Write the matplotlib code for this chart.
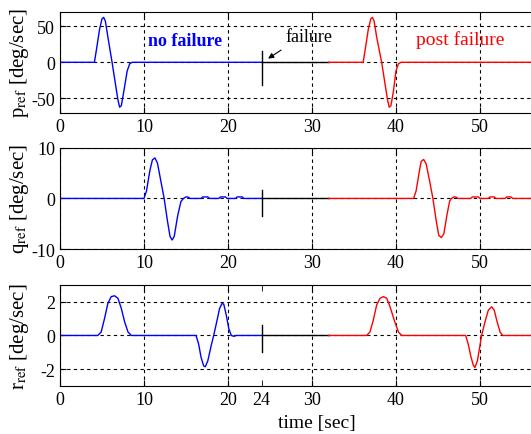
import matplotlib
matplotlib.use('Agg')
import matplotlib.pyplot as plt

plt.rcParams['font.family'] = ['Liberation Serif', 'DejaVu Serif']
plt.rcParams['mathtext.fontset'] = 'stix'
plt.rcParams['axes.unicode_minus'] = False

# p_ref [deg/sec]
p_pre_t = [0, 4.1, 4.4, 4.7, 5.0, 5.2, 5.4, 5.7, 6.2, 6.6, 6.9, 7.1, 7.3, 7.6, 8.0, 8.3, 8.6, 24]
p_pre = [0, 0, 22, 45, 60, 62, 57, 35, 0, -30, -52, -62, -60, -40, -12, -2, 0, 0]
p_post_t = [32, 36.1, 36.4, 36.7, 37.0, 37.2, 37.4, 37.7, 38.3, 38.7, 39.0, 39.2, 39.4, 39.7, 40.0, 40.3, 40.6, 60]
p_post = [0, 0, 22, 45, 60, 62, 57, 35, 0, -30, -52, -62, -60, -40, -12, -2, 0, 0]

# q_ref [deg/sec]
q_pre_t = [0, 10.0, 10.3, 10.7, 11.0, 11.3, 11.6, 12.0, 12.4, 12.8, 13.1, 13.35, 13.6, 14.0, 14.4, 14.7,
           15.0, 15.2, 15.5, 16.8, 17.0, 17.6, 17.8, 18.9, 19.1, 19.7, 19.9, 20.9, 21.1, 21.7, 21.9, 24]
q_pre = [0, 0, 1.5, 5.5, 7.6, 8.0, 7.0, 3.5, 0, -4.5, -7.5, -8.2, -7.5, -3.5, -0.6, 0,
         0.3, 0.3, 0, 0, 0.3, 0.3, 0, 0, 0.3, 0.3, 0, 0, 0.3, 0.3, 0, 0]
q_post_t = [32, 42.1, 42.4, 42.8, 43.0, 43.3, 43.6, 44.0, 44.4, 44.8, 45.1, 45.4, 45.7, 46.1, 46.4, 46.6,
            46.9, 47.1, 47.4, 48.9, 49.1, 49.8, 50.0, 51.0, 51.2, 51.7, 51.9, 53.0, 53.2, 53.7, 53.9, 60]
q_post = [0, 0, 1.5, 5.5, 7.3, 7.7, 6.8, 3.5, 0, -4.5, -7.3, -7.7, -7.0, -3.0, -0.5, 0,
          0.3, 0.3, 0, 0, 0.3, 0.3, 0, 0, 0.3, 0.3, 0, 0, 0.3, 0.3, 0, 0]

# r_ref [deg/sec]
r_pre_t = [0, 4.5, 4.9, 5.3, 5.7, 6.1, 6.5, 6.9, 7.3, 7.7, 8.1, 8.5,
           16.2, 16.5, 16.8, 17.1, 17.3, 17.6, 18.0, 18.3, 18.7, 19.0, 19.3, 19.5, 19.8, 20.1, 20.4, 20.7, 21.0, 24]
r_pre = [0, 0, 0.2, 1.0, 1.9, 2.3, 2.35, 2.2, 1.6, 0.8, 0.2, 0,
         0, -0.5, -1.3, -1.8, -1.85, -1.5, -0.6, 0, 0.9, 1.6, 1.9, 1.85, 1.2, 0.4, 0, -0.05, 0, 0]
r_post_t = [32, 36.5, 36.9, 37.3, 37.7, 38.1, 38.5, 38.9, 39.3, 39.8, 40.3, 40.7,
            48.3, 48.6, 48.9, 49.2, 49.4, 49.7, 50.0, 50.2, 50.6, 51.0, 51.4, 51.7, 52.0, 52.4, 52.7, 60]
r_post = [0, 0, 0.2, 0.9, 1.8, 2.2, 2.3, 2.2, 1.7, 0.9, 0.2, 0,
          0, -0.5, -1.2, -1.75, -1.9, -1.5, -0.6, 0, 0.8, 1.5, 1.7, 1.5, 0.9, 0.2, 0, 0]

gap_t = [24, 32]
gap = [0, 0]
t_fail = 24

panels = [
    (p_pre_t, p_pre, p_post_t, p_post, (-70, 70), [-50, 0, 50], (-32, 15), r'p$_{\rm ref}$ [deg/sec]'),
    (q_pre_t, q_pre, q_post_t, q_post, (-10, 10), [-10, 0, 10], (-3.5, 1.6), r'q$_{\rm ref}$ [deg/sec]'),
    (r_pre_t, r_pre, r_post_t, r_post, (-3, 3), [-2, 0, 2], (-0.95, 0.6), r'r$_{\rm ref}$ [deg/sec]'),
]
boxes = [0.738, 0.425, 0.110]

fig = plt.figure(figsize=(5.31, 4.35), dpi=100)
axes = []
for (t1, y1, t2, y2, ylim, yt, mark, lab), b in zip(panels, boxes):
    ax = fig.add_axes([0.113, b, 0.949, 0.233])
    ax.plot(t1, y1, color='blue', lw=1)
    ax.plot(gap_t, gap, color='black', lw=1)
    ax.plot(t2, y2, color='red', lw=1)
    ax.plot([t_fail, t_fail], mark, color='black', lw=1)
    ax.set_xlim(0, 60)
    ax.set_ylim(*ylim)
    ax.set_xticks([0, 10, 20, 30, 40, 50])
    ax.set_yticks(yt)
    ax.grid(True, color='black', linestyle=(0, (3, 3)), lw=0.8)
    ax.tick_params(direction='in', top=True, right=True, labelsize=13, length=4)
    ax.set_ylabel(lab, fontsize=15)
    ax.yaxis.set_label_coords(-0.058, 0.5)
    axes.append(ax)

ax1, ax2, ax3 = axes
ax1.text(10.5, 30, 'no failure', color='blue', fontsize=13, fontweight='bold', va='center')
ax1.text(42.4, 32, 'post failure', color='red', fontsize=14, va='center')
ax1.text(26.8, 35, 'failure', color='black', fontsize=13, va='center')
ax1.annotate('', xy=(24.5, 3), xytext=(26.6, 19),
             arrowprops=dict(arrowstyle='-|>', color='black', lw=0.8, mutation_scale=8))

ax3.set_xticks([24], minor=True)
ax3.set_xticklabels(['24'], minor=True)
ax3.tick_params(which='minor', direction='in', top=True, labelsize=13, length=4)
ax3.set_xlabel('time [sec]', fontsize=14, labelpad=0)
ax3.xaxis.set_label_coords(0.51, -0.27)

fig.savefig('out.png', dpi=100)
